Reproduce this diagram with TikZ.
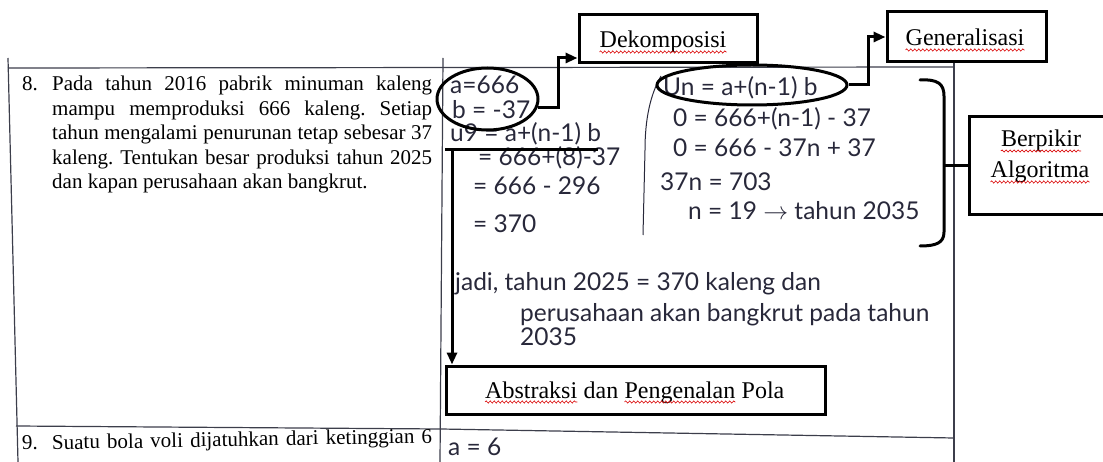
\documentclass[tikz,border=0pt]{standalone}
\usepackage{fontspec}
\setmainfont{Liberation Serif}
\newfontfamily\handfont{Lato}
\usetikzlibrary{arrows.meta,shapes.geometric,positioning,calc,decorations.pathmorphing}
\definecolor{ink}{RGB}{40,40,58}
\definecolor{rulegray}{RGB}{60,62,75}
\frenchspacing

\begin{document}
\begin{tikzpicture}[x=1pt, y=-1pt, >={Triangle[length=12pt,width=10pt]},
  tagbox/.style={draw, line width=3pt, inner sep=0pt},
  tagtext/.style={inner sep=0pt, font=\fontsize{24}{28}\selectfont},
  spellwave/.style={red!85!black, line width=0.6pt, decorate,
    decoration={snake, segment length=4pt, amplitude=1.1pt}},
  circled/.style={ellipse, draw, line width=3pt, inner sep=0pt},
  link/.style={line width=3pt, ->},
  hand/.style={anchor=base west, inner sep=0pt, text=ink, font=\handfont\fontsize{24.5}{28}\selectfont},
  tableline/.style={rulegray, line width=1.2pt},
  typed/.style={inner sep=0pt, font=\fontsize{21}{24.5}\selectfont}]
  \useasboundingbox (0,0) rectangle (1103,462);
  \clip (0,0) rectangle (1103,462);

  %% ── Table rules ─────────────────────────────────────────────
  \draw[tableline] (8,58) -- (18,462);
  \draw[tableline] (443,58) -- (440,462);
  \draw[tableline] (954,62) -- (954,462);
  \draw[tableline] (8,68) -- (954,67);
  \draw[tableline] (16,426) -- (441,429) -- (954,438);

  %% ── Question column (typed) ─────────────────────────────────
  \node[typed, anchor=north west, text width=380pt, align=justify] (q8) at (52,76)
    {\llap{\makebox[30pt][l]{8.}}Pada tahun 2016 pabrik minuman kaleng\linebreak
     mampu memproduksi 666 kaleng. Setiap\linebreak
     tahun mengalami penurunan tetap sebesar 37\linebreak
     kaleng. Tentukan besar produksi tahun 2025\linebreak
     dan kapan perusahaan akan bangkrut.};
  \node[typed, anchor=base west, rotate=1] (q9) at (22,450)
    {\makebox[30pt][l]{9.}\makebox[380pt][s]{Suatu bola voli dijatuhkan dari ketinggian 6}};

  %% ── Answer column (handwriting) ─────────────────────────────
  \foreach \px/\py/\txt [count=\i] in {
      450/94/{a=666}, 452/119/{b = -37}, 450/142/{u9 = a+(n-1) b},
      478/166/{= 666+(8)-37}, 473/195/{= 666 - 296}, 473/233/{= 370},
      663/96/{Un = a+(n-1) b}, 673/127/{0 = 666+(n-1) - 37},
      673/157/{0 = 666 - 37n + 37}, 660/191/{37n = 703},
      688/220/{n = 19 $\rightarrow$ tahun 2035},
      455/291/{jadi, tahun 2025 = 370 kaleng dan},
      520/321/{perusahaan akan bangkrut pada tahun}, 520/345/{2035},
      448/455/{a = 6}}{
    \node[hand] (work\i) at (\px,\py) {\txt};
  }
  %% hand-drawn bracket in front of the second working
  \draw[ink, line width=1pt] (661,76) .. controls (650,95) and (645,120) .. (645,150) -- (643,235);

  %% ── Markings ────────────────────────────────────────────────
  \node[circled, minimum width=101pt, minimum height=62pt] (given) at (487.5,99) {};
  \node[circled, minimum width=190pt, minimum height=40pt] (formula) at (752,85) {};
  \coordinate (bar-w) at (445,150);
  \coordinate (bar-e) at (598,150);
  \coordinate (drop) at (452,150);
  \draw[line width=3pt] (bar-w) -- (bar-e);
  %% brace round the last steps
  \coordinate (brace-tip) at (944,166);
  \draw[line width=3pt, line cap=round]
    (920,80) .. controls (938,79) and (944,84) .. (944,96) -- (944,232)
    .. controls (944,243) and (936,246) .. (920,246);

  %% ── Label boxes ─────────────────────────────────────────────
  \node[tagbox, minimum width=178pt, minimum height=48pt] (dekom) at (668,39) {};
  \node[tagtext, anchor=base] (dekom-a) at (663,48) {Dekomposisi};
  \node[tagbox, minimum width=159pt, minimum height=50pt] (general) at (966.5,37) {};
  \node[tagtext, anchor=base] (general-a) at (965,46) {Generalisasi};
  \node[tagbox, minimum width=379pt, minimum height=48pt] (abstr) at (635.5,390) {};
  \node[tagtext, anchor=base west] (abstr-a) at (485,398) {Abstraksi};
  \node[tagtext, base right=6pt of abstr-a] (abstr-b) {dan};
  \node[tagtext, base right=6pt of abstr-b] (abstr-c) {Pengenalan};
  \node[tagtext, base right=6pt of abstr-c] (abstr-d) {Pola};
  \node[tagbox, minimum width=143pt, minimum height=98pt] (algo) at (1040.5,166) {};
  \node[tagtext, anchor=base] (algo-a) at (1041,147) {Berpikir};
  \node[tagtext, anchor=base] (algo-b) at (1040,178) {Algoritma};
  %% spell-check squiggles
  \foreach \w in {dekom-a,general-a,abstr-a,abstr-c,algo-a,algo-b}{
    \draw[spellwave] ([yshift=-4pt]\w.base west) -- ([yshift=-4pt]\w.base east);
  }

  %% ── Connectors ──────────────────────────────────────────────
  \draw[link] (given.-10) -- ++(21,0) |- ([yshift=-19pt]dekom.west);
  \draw[link] (formula.east) -- ++(20,0) |- (general.west);
  \draw[link] (drop) -- (drop |- abstr.north);
  \draw[line width=3pt] (brace-tip) -- (algo.west);
\end{tikzpicture}
\end{document}
